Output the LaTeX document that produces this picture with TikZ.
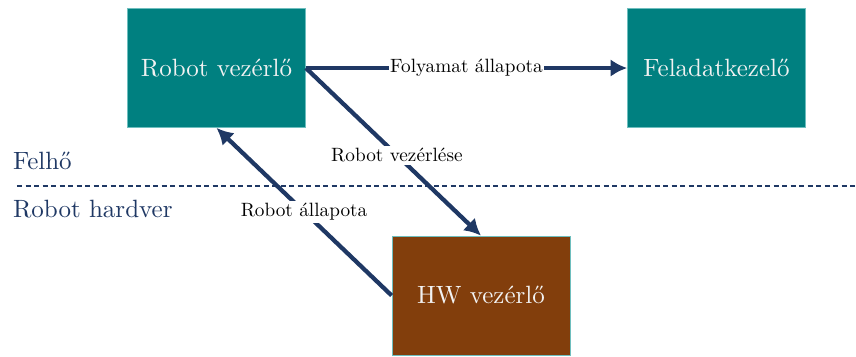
\documentclass[tikz,border=0pt]{standalone}
\usetikzlibrary{arrows.meta}
\definecolor{flowblue}{RGB}{31,56,100}
\definecolor{boxteal}{RGB}{0,128,128}
\definecolor{boxbrown}{RGB}{130,62,12}
\definecolor{boxedge}{RGB}{110,190,190}
% flow labels: the 10pt design shrunk, rather than a small optical size
\newcommand{\flowtext}[1]{\scalebox{0.77}{#1}}
\tikzset{
  unit/.style={minimum width=71.2pt, minimum height=47.6pt, draw=boxedge, line width=0.3pt,
               text=white!95!black, font=\normalsize, inner sep=0pt},
  cloudbox/.style={unit, fill=boxteal},
  hwbox/.style={unit, fill=boxbrown},
  flow/.style={draw=flowblue, line width=1.7pt, -{Latex[length=6.6pt,width=7pt]}},
  flowlabel/.style={fill=white, inner xsep=0.3pt, inner ysep=1pt, text=black, font=\normalsize},
  zone/.style={text=flowblue, anchor=base west, inner sep=0pt, font=\normalsize}
}
\begin{document}
\begin{tikzpicture}[x=0.4pt, y=-0.4pt]
  \useasboundingbox (0,0) rectangle (856,356);

  % cloud / hardware boundary
  \coordinate (sepL) at (17,186);
  \coordinate (sepR) at (856,186);
  \draw[flowblue, line width=0.7pt, dash pattern=on 2pt off 1.4pt] (sepL) -- (sepR);
  \node[zone] (felho) at (12.5,169.3) {Felhő};
  \node[zone] (hwzone) at (12.5,217.3) {Robot hardver};

  % components
  \node[cloudbox] (rc) at (216.5,68) {Robot vezérlő};
  \node[cloudbox] (fk) at (716.5,68) {Feladatkezelő};
  \node[hwbox] (hw) at (481,295.5) {HW vezérlő};

  % data flows
  \draw[flow] (rc.east) -- node[flowlabel] {\flowtext{Folyamat állapota}} (fk.west);
  \draw[flow] (rc.east) -- node[flowlabel, pos=0.52] {\flowtext{Robot vezérlése}} (hw.north);
  \draw[flow] (hw.west) -- node[flowlabel, pos=0.5] {\flowtext{Robot állapota}} (rc.south);
\end{tikzpicture}
\end{document}
